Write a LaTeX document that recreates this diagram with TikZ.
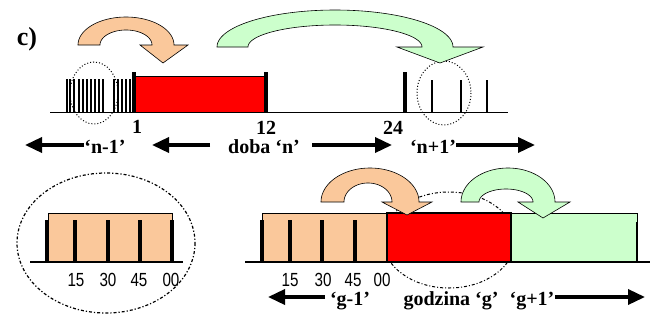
\documentclass[tikz,border=0pt]{standalone}
\usepackage{fontspec}
\setmainfont{Liberation Serif}
\newfontfamily\digitfont{Liberation Sans}
\usetikzlibrary{arrows.meta}
\definecolor{peach}{RGB}{250,200,155}
\definecolor{mint}{RGB}{204,255,204}
\newcommand\narrowdig[1]{\scalebox{0.8}[1]{#1}}
\tikzset{
  lbl/.style={font=\fontsize{20}{20}\selectfont\bfseries, inner sep=0pt, anchor=base},
  num/.style={font=\fontsize{19}{19}\selectfont\digitfont, inner sep=0pt, anchor=base},
  harrow/.style={line width=3.5pt, -{Triangle[length=17pt,width=15pt]}},
  base/.style={line width=1.3pt},
  hatch/.style={line width=1.1pt},
  bar/.style={line width=3.5pt},
  blockarrow/.style={draw=black, line width=0.6pt, line join=miter},
  ring/.style={line width=1pt, dotted},
  dashring/.style={line width=1.2pt, dash dot},
}
\begin{document}
\begin{tikzpicture}[x=1pt,y=-1pt]
\useasboundingbox[fill=white] (0,0) rectangle (651,322);

% ---------- top part ----------
\node[font=\fontsize{26}{26}\selectfont\bfseries, inner sep=0pt, anchor=base] (c) at (27,45) {c)};

\draw[ring] (94,93) ellipse [x radius=24, y radius=31];
\draw[ring] (444,93) ellipse [x radius=27, y radius=32];

\foreach \x in {67,70,74,79,83,87,91,95,99,103,114,118,122,126,130}
  \draw[hatch] (\x,79) -- (\x,112);

\filldraw[fill=red, draw=black, line width=0.8pt] (134,76) rectangle (266,112);
\draw[bar] (134,72) -- (134,112);
\draw[bar] (266,72) -- (266,112);
\draw[bar] (405,72) -- (405,112);
\foreach \x in {432,461,487}
  \draw[hatch] (\x,80) -- (\x,112);
\draw[base] (50,112.7) -- (508,112.7);

\node[lbl] (t1) at (137,133) {1};
\node[lbl] (t12) at (266,134) {12};
\node[lbl] (t24) at (393,134) {24};

% curved block arrows (top)
\filldraw[blockarrow, fill=peach]
  plot[domain=180:360,samples=60] ({126+48*cos(\x)},{45+28*sin(\x)})
  -- (188,45) -- (163,63) -- (140,45)
  -- plot[domain=360:180,samples=60] ({126+26*cos(\x)},{45+15*sin(\x)})
  -- cycle;
\filldraw[blockarrow, fill=mint]
  plot[domain=180:360,samples=80] ({335+118*cos(\x)},{47+37*sin(\x)})
  -- (483,47) -- (440,63) -- (397,47)
  -- plot[domain=360:180,samples=80] ({335+87*cos(\x)},{47+22*sin(\x)})
  -- cycle;

% labels and arrows top
\node[lbl] (nm1) at (105,153) {‘n-1’};
\node[lbl] (dn) at (264,153) {doba ‘n’};
\node[lbl] (np1) at (433,153) {‘n+1’};
\coordinate (a1) at (25,145);
\coordinate (a1s) at (84,145);
\coordinate (a2s) at (210,145);
\coordinate (a2) at (152,145);
\coordinate (a3s) at (312,145);
\coordinate (a3) at (392,145);
\coordinate (a4s) at (456,145);
\coordinate (a4) at (535,145);
\draw[harrow] (a1s) -- (a1);
\draw[harrow] (a2s) -- (a2);
\draw[harrow] (a3s) -- (a3);
\draw[harrow] (a4s) -- (a4);

% ---------- bottom left ----------
\draw[dashring] (106,243) ellipse [x radius=89, y radius=70];
\filldraw[fill=peach, draw=black, line width=0.8pt] (48,213) rectangle (172,262);
\foreach \x in {47,75,108,140,172}
  \draw[bar] (\x,220) -- (\x,262);
\draw[base] (30,262) -- (183,262);
\node[num] (l15) at (76,286) {\narrowdig{15}};
\node[num] (l30) at (108,286) {\narrowdig{30}};
\node[num] (l45) at (139,286) {\narrowdig{45}};
\node[num] (l00) at (171,286) {\narrowdig{00}};

% ---------- bottom right ----------
\draw[ring, dash dot] (449,240) ellipse [x radius=66, y radius=48];
\filldraw[fill=peach, draw=black, line width=0.8pt] (262,213) rectangle (387,262);
\filldraw[fill=red, draw=black, line width=1.6pt] (387,213) rectangle (511,262);
\filldraw[fill=mint, draw=black, line width=0.8pt] (511,213) rectangle (637,262);
\foreach \x in {262,290,322,355}
  \draw[bar] (\x,220) -- (\x,262);
\draw[line width=2pt] (637,222) -- (637,262);
\draw[base] (245,262) -- (650,262);
\node[num] (r15) at (290,286) {\narrowdig{15}};
\node[num] (r30) at (323,286) {\narrowdig{30}};
\node[num] (r45) at (353,286) {\narrowdig{45}};
\node[num] (r00) at (382,286) {\narrowdig{00}};

\filldraw[blockarrow, fill=peach]
  plot[domain=180:360,samples=60] ({370+49*cos(\x)},{202+34*sin(\x)})
  -- (432,202) -- (407,215) -- (382,202)
  -- plot[domain=360:180,samples=60] ({368+24*cos(\x)},{202+19*sin(\x)})
  -- cycle;
\filldraw[blockarrow, fill=mint]
  plot[domain=180:360,samples=60] ({508+47*cos(\x)},{202+34*sin(\x)})
  -- (570,202) -- (543,218) -- (518,202)
  -- plot[domain=360:180,samples=60] ({506+27*cos(\x)},{202+13*sin(\x)})
  -- cycle;

\node[lbl] (gm1) at (350,305) {‘g-1’};
\node[lbl] (gz) at (451,305) {godzina ‘g’};
\node[lbl] (gp1) at (532,305) {‘g+1’};
\coordinate (b1s) at (325,297);
\coordinate (b1) at (268,297);
\coordinate (b2s) at (555,297);
\coordinate (b2) at (645,297);
\draw[harrow] (b1s) -- (b1);
\draw[harrow] (b2s) -- (b2);
\end{tikzpicture}
\end{document}
